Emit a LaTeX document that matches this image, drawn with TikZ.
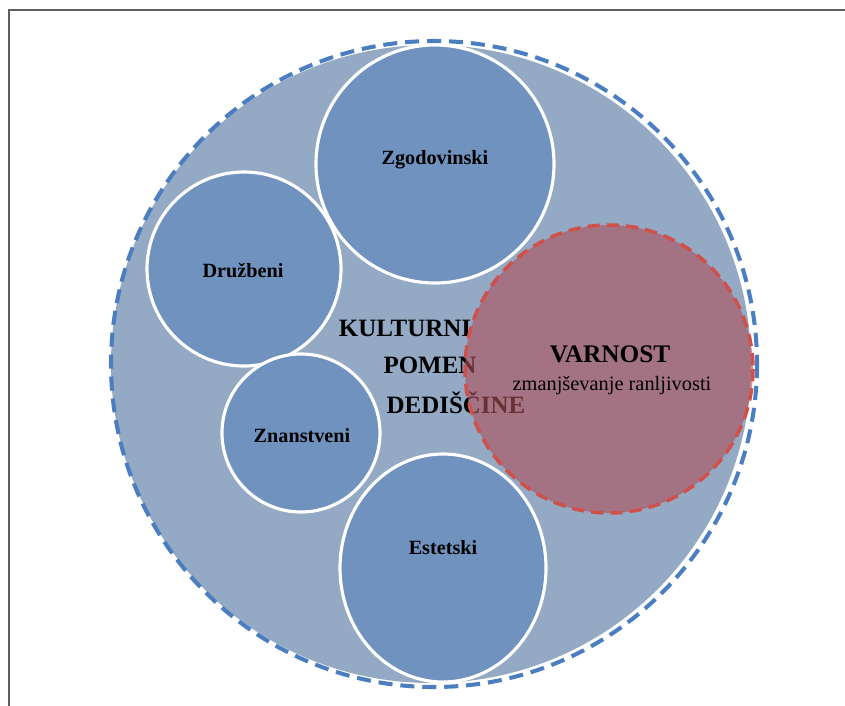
\documentclass[tikz,border=0pt]{standalone}
\usepackage{fontspec}
\setmainfont{Liberation Serif}
\usepackage{tikz}
\usetikzlibrary{positioning}
\definecolor{outerfill}{RGB}{147,169,196}
\definecolor{outerdash}{RGB}{74,126,193}
\definecolor{innerfill}{RGB}{111,146,190}
\definecolor{varnfill}{RGB}{175,80,90}
\definecolor{varndash}{RGB}{208,80,74}
\definecolor{framegray}{RGB}{95,95,95}

\begin{document}
\begin{tikzpicture}[x=0.02cm,y=-0.02cm,
		bubble/.style={fill=innerfill,draw=white,line width=1.8pt},
		bubbletext/.style={font=\fontsize{11.5}{13}\selectfont\bfseries},
		headtext/.style={font=\fontsize{14.2}{16}\selectfont\bfseries}]
		\useasboundingbox (0,0) rectangle (845,706);
		\draw [framegray,line width=1pt] (9,706) -- (9,10) -- (845,10);
		\fill [outerfill] (431,364) ellipse [x radius=320,y radius=319];
		\draw [outerdash,line width=2.3pt,dash pattern=on 8pt off 4.5pt] (434,364) circle [radius=323];
		\draw [bubble] (435,164) circle [radius=119];
		\draw [bubble] (244,269) circle [radius=97];
		\draw [bubble] (301,433) circle [radius=79];
		\draw [bubble] (443,568) ellipse [x radius=103,y radius=114];
		\node [bubbletext] (zgod) at (435,160) {Zgodovinski};
		\node [bubbletext] (druz) at (243,270) {Družbeni};
		\node [bubbletext] (znan) at (302,436) {Znanstveni};
		\node [bubbletext] (este) at (443,548) {Estetski};
		\node [headtext] (kult) at (405,328) {KULTURNI};
		\node [headtext] (pomen) at (430,365) {POMEN};
		\node [headtext] (dedis) at (456,403) {DEDIŠČINE};
		\fill [varnfill,opacity=0.6] (609,369) circle [radius=144];
		\draw [varndash,line width=2pt,dash pattern=on 7pt off 4pt] (609,369) circle [radius=144];
		\node [font=\fontsize{14.4}{16}\selectfont\bfseries] (varn) at (610,354) {VARNOST};
		\node [font=\fontsize{11.6}{13}\selectfont] (zmanj) at (612,386) {zmanjševanje ranljivosti};
	\end{tikzpicture}
\end{document}
